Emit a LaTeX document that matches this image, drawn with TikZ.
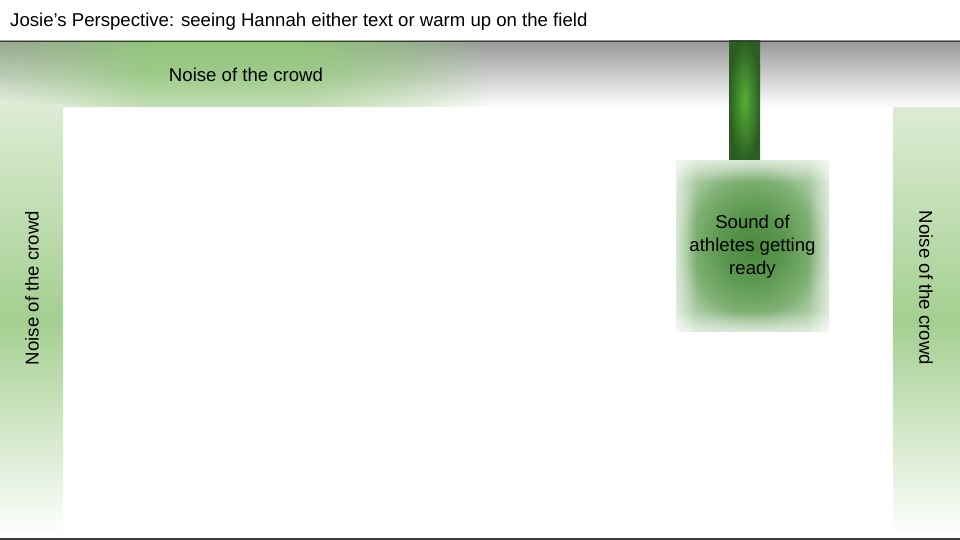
\documentclass[tikz,border=0pt]{standalone}
\usepackage{fontspec}
\setmainfont{Liberation Sans}
\usetikzlibrary{fadings}
\definecolor{bandtop}{HTML}{999999}
\definecolor{blobtop}{HTML}{93C47E}
\definecolor{blobmid}{HTML}{9CCA89}
\definecolor{blobbot}{HTML}{C2DEB3}
\definecolor{coltop}{HTML}{DCECD4}
\definecolor{colmid}{HTML}{A4CF90}
\definecolor{barin}{HTML}{55AF35}
\definecolor{barout}{HTML}{2C5E23}
\definecolor{boxa}{HTML}{4A8A3D}
\definecolor{boxb}{HTML}{5A974E}
\definecolor{boxc}{HTML}{7FB074}
\definecolor{boxd}{HTML}{A2C69A}
\definecolor{boxe}{HTML}{C4DBBE}
\definecolor{rulecol}{HTML}{3A3A3A}
\pgfdeclareradialshading{boxshade}{\pgfpointorigin}{color(0bp)=(boxa); color(10bp)=(boxb); color(20bp)=(boxc); color(25bp)=(boxd); color(35bp)=(boxe); color(50bp)=(boxe)}
\pgfdeclarehorizontalshading{blobfadesh}{100bp}{color(0bp)=(transparent!65); color(25bp)=(transparent!65); color(32bp)=(transparent!40); color(40bp)=(transparent!0); color(56bp)=(transparent!0); color(66bp)=(transparent!45); color(75bp)=(transparent!100); color(100bp)=(transparent!100)}
\pgfdeclarefading{blobfade}{\pgfuseshading{blobfadesh}}
\pgfdeclarehorizontalshading{edgehA}{100bp}{color(0bp)=(transparent!40); color(25bp)=(transparent!40); color(75bp)=(transparent!100); color(100bp)=(transparent!100)}
\pgfdeclarefading{edgeToRight}{\pgfuseshading{edgehA}}
\pgfdeclarehorizontalshading{edgehB}{100bp}{color(0bp)=(transparent!100); color(25bp)=(transparent!100); color(75bp)=(transparent!40); color(100bp)=(transparent!40)}
\pgfdeclarefading{edgeToLeft}{\pgfuseshading{edgehB}}
\pgfdeclareverticalshading{edgevA}{100bp}{color(0bp)=(transparent!40); color(25bp)=(transparent!40); color(75bp)=(transparent!100); color(100bp)=(transparent!100)}
\pgfdeclarefading{edgeVA}{\pgfuseshading{edgevA}}
\pgfdeclareverticalshading{edgevB}{100bp}{color(0bp)=(transparent!100); color(25bp)=(transparent!100); color(75bp)=(transparent!40); color(100bp)=(transparent!40)}
\pgfdeclarefading{edgeVB}{\pgfuseshading{edgevB}}
\tikzset{
  lbl/.style={font=\fontsize{18.6}{23}\selectfont, text=black, inner sep=0pt, align=center},
  rule/.style={draw=rulecol, line width=1.2pt},
  softedge/.style={fill=white, draw=none}
}
\begin{document}
\begin{tikzpicture}[x=1pt,y=-1pt]
\useasboundingbox (0,0) rectangle (960,540);
\fill[white] (0,0) rectangle (960,540);
% gray band
\shade[top color=bandtop, bottom color=white] (0,41) rectangle (960,108);
% top green blob
\shade[top color=blobtop, bottom color=blobbot, middle color=blobmid, path fading=blobfade] (0,41) rectangle (490,107);
% side columns
\shade[top color=coltop, bottom color=white, middle color=colmid] (0,105) rectangle (63,535);
\shade[top color=coltop, bottom color=white, middle color=colmid] (893,108) rectangle (960,535);
% dark bar
\shade[inner color=barin, outer color=barout] (729,41) rectangle (760,161);
% box with soft light edges
\shade[shading=boxshade] (676,161) rectangle (829,331);
\fill[softedge, path fading=edgeToRight] (675,160) rectangle (697,332);
\fill[softedge, path fading=edgeToLeft] (808,160) rectangle (830,332);
\fill[softedge, path fading=edgeVB] (675,160) rectangle (830,182);
\fill[softedge, path fading=edgeVA] (675,310) rectangle (830,332);
% rules
\draw[rule] (0,41.5) -- (960,41.5);
\draw[rule] (0,539) -- (960,539);
% texts
\node[lbl, anchor=base west] (title) at (10,27) {Josie’s Perspective: seeing Hannah either text or warm up on the field};
\node[lbl] (topcrowd) at (246,75) {Noise of the crowd};
\node[lbl, rotate=90] (leftcrowd) at (32,288) {Noise of the crowd};
\node[lbl, rotate=-90] (rightcrowd) at (926,288) {Noise of the crowd};
\node[lbl] (athletes) at (752.5,247) {Sound of\\athletes getting\\ready};
\end{tikzpicture}
\end{document}
